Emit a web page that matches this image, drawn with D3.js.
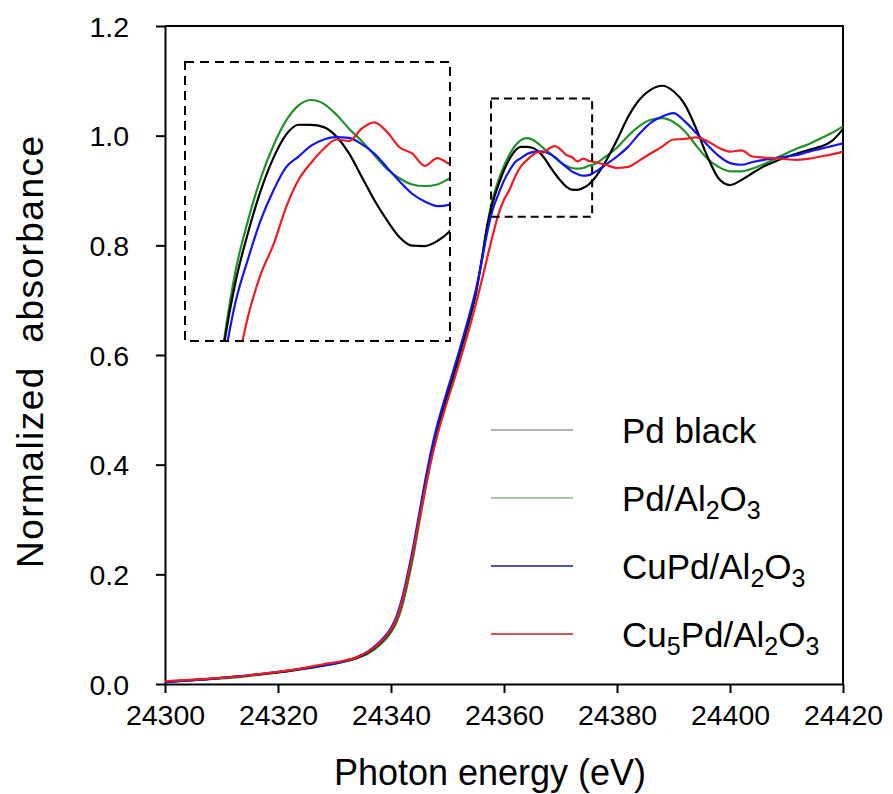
<!DOCTYPE html>
<html>
<head>
<meta charset="utf-8">
<script src="https://cdn.jsdelivr.net/npm/d3@7"></script>
<style>
  html, body { margin: 0; padding: 0; background: #fff; }
  svg { display: block; font-family: "Liberation Sans", Arial, sans-serif; }
</style>
</head>
<body>
<svg id="chart" width="893" height="794"></svg>
<script>
// Pd K-edge XANES spectra, normalized absorbance vs photon energy (eV)
const energy = [24300, 24305, 24310, 24315, 24320, 24325, 24328, 24331, 24334, 24336, 24338,
  24340, 24341, 24342, 24343, 24344, 24345, 24346, 24347, 24348, 24349,
  24350, 24351, 24352, 24353, 24354, 24355, 24356, 24357, 24358, 24359,
  24360, 24361, 24362, 24363, 24364, 24365, 24366, 24367, 24368, 24369,
  24370, 24371, 24372, 24373, 24374, 24375, 24376,
  24378, 24380, 24382, 24384, 24386, 24388, 24390, 24392, 24394, 24396, 24398,
  24400, 24402, 24404, 24406, 24408, 24410, 24412, 24414, 24416, 24418, 24420];

const pdAl2O3 = [0.004, 0.007, 0.010, 0.015, 0.021, 0.028, 0.033, 0.039, 0.047, 0.056, 0.071,
  0.094, 0.113, 0.143, 0.186, 0.236, 0.294, 0.350, 0.403, 0.450, 0.490,
  0.526, 0.560, 0.596, 0.632, 0.669, 0.712, 0.770, 0.835, 0.885, 0.918,
  0.945, 0.966, 0.982, 0.992, 0.9955, 0.993, 0.986, 0.977, 0.969, 0.960,
  0.951, 0.945, 0.941, 0.940, 0.941, 0.945, 0.948,
  0.962, 0.978, 1.000, 1.018, 1.029, 1.032, 1.025, 1.008, 0.982, 0.958, 0.943,
  0.935, 0.935, 0.940, 0.948, 0.958, 0.968, 0.977, 0.985, 0.995, 1.005, 1.017];

const pdBlack = [0.004, 0.007, 0.011, 0.016, 0.021, 0.029, 0.034, 0.040, 0.048, 0.058, 0.074,
  0.098, 0.119, 0.152, 0.196, 0.247, 0.304, 0.360, 0.412, 0.457, 0.494,
  0.528, 0.561, 0.597, 0.633, 0.670, 0.712, 0.770, 0.833, 0.878, 0.910,
  0.937, 0.958, 0.973, 0.9795, 0.9795, 0.978, 0.972, 0.961, 0.946, 0.931,
  0.918, 0.907, 0.9015, 0.9012, 0.9045, 0.911, 0.922,
  0.953, 0.992, 1.035, 1.066, 1.084, 1.091, 1.081, 1.057, 1.013, 0.962, 0.922,
  0.910, 0.919, 0.932, 0.944, 0.953, 0.961, 0.968, 0.974, 0.980, 0.990, 1.012];

const cuPdAl2O3 = [0.004, 0.007, 0.011, 0.016, 0.022, 0.029, 0.034, 0.040, 0.049, 0.060, 0.077,
  0.102, 0.124, 0.158, 0.203, 0.254, 0.311, 0.368, 0.420, 0.465, 0.502,
  0.537, 0.570, 0.605, 0.641, 0.678, 0.718, 0.767, 0.822, 0.865, 0.893,
  0.918, 0.937, 0.952, 0.959, 0.966, 0.970, 0.9715, 0.971, 0.967, 0.961,
  0.952, 0.943, 0.935, 0.930, 0.927, 0.928, 0.933,
  0.947, 0.962, 0.980, 1.004, 1.024, 1.035, 1.041, 1.026, 1.005, 0.983, 0.963,
  0.950, 0.947, 0.952, 0.956, 0.959, 0.962, 0.965, 0.971, 0.976, 0.981, 0.986];

const cu5PdAl2O3 = [0.005, 0.008, 0.011, 0.016, 0.022, 0.030, 0.036, 0.041, 0.049, 0.059, 0.075,
  0.099, 0.119, 0.152, 0.196, 0.246, 0.300, 0.353, 0.403, 0.446, 0.483,
  0.517, 0.549, 0.583, 0.618, 0.654, 0.692, 0.733, 0.776, 0.818, 0.856,
  0.883, 0.902, 0.926, 0.944, 0.955, 0.964, 0.970, 0.969, 0.977, 0.981,
  0.975, 0.965, 0.961, 0.953, 0.958, 0.954, 0.952,
  0.947, 0.941, 0.943, 0.955, 0.968, 0.980, 0.993, 0.994, 0.997, 0.990, 0.978,
  0.971, 0.973, 0.962, 0.960, 0.959, 0.957, 0.956, 0.958, 0.962, 0.966, 0.971];

const xTicks = [24300, 24320, 24340, 24360, 24380, 24400, 24420];
const yTicks = [0.0, 0.2, 0.4, 0.6, 0.8, 1.0, 1.2];

// zoomed window (data units) marked on the main plot, and the range shown enlarged
const zoomBoxE = [24357.7, 24375.6];
const zoomBoxA = [0.852, 1.068];
const insetE = [24354, 24375];
const insetA = [0.84, 1.02];

// drawing order: last one on top
const series = [
  { name: "Pd/Al2O3", values: pdAl2O3, color: "#22902a" },
  { name: "Pd black", values: pdBlack, color: "#000000" },
  { name: "CuPd/Al2O3", values: cuPdAl2O3, color: "#1414f0" },
  { name: "Cu5Pd/Al2O3", values: cu5PdAl2O3, color: "#ec1c22" }
];

// legend entries: [text parts], line colour; parts marked sub are subscripts
const legendItems = [
  { parts: [["Pd black", false]], color: "#9a9a9a" },
  { parts: [["Pd/Al", false], ["2", true], ["O", false], ["3", true]], color: "#8fb58f" },
  { parts: [["CuPd/Al", false], ["2", true], ["O", false], ["3", true]], color: "#1c1c8e" },
  { parts: [["Cu", false], ["5", true], ["Pd/Al", false], ["2", true], ["O", false], ["3", true]], color: "#b52222" }
];

const svg = d3.select("#chart");
const plot = { left: 165, right: 843, top: 26, bottom: 684 };

const x = d3.scaleLinear().domain([24300, 24420]).range([plot.left, plot.right]);
const y = d3.scaleLinear().domain([0, 1.2]).range([plot.bottom, plot.top]);

// frame (top and right edges)
svg.append("path")
  .attr("d", `M${plot.left},${plot.top}H${plot.right}V${plot.bottom}`)
  .attr("fill", "none").attr("stroke", "#000").attr("stroke-width", 2);

// axes
const xAxis = svg.append("g")
  .attr("transform", `translate(0,${plot.bottom})`)
  .call(d3.axisBottom(x).tickValues(xTicks).tickFormat(d3.format("d")).tickSize(9).tickPadding(12).tickSizeOuter(0));
const yAxis = svg.append("g")
  .attr("transform", `translate(${plot.left},0)`)
  .call(d3.axisLeft(y).tickValues(yTicks).tickFormat(d3.format(".1f")).tickSize(9).tickPadding(27).tickSizeOuter(0));

[xAxis, yAxis].forEach(g => {
  g.select(".domain").attr("stroke", "#000").attr("stroke-width", 2);
  g.selectAll(".tick line").attr("stroke", "#000").attr("stroke-width", 2);
  g.selectAll(".tick text").attr("fill", "#000").style("font-size", "28.5px")
    .style("font-family", "'Liberation Sans', Arial, sans-serif");
});
yAxis.selectAll(".tick text").attr("dy", "0.36em");

// axis titles
svg.append("text")
  .attr("x", 490).attr("y", 785)
  .attr("text-anchor", "middle")
  .style("font-size", "36px")
  .text("Photon energy (eV)");

svg.append("text")
  .attr("transform", "translate(43,352) rotate(-90)")
  .attr("text-anchor", "middle")
  .attr("textLength", 432)
  .attr("lengthAdjust", "spacing")
  .style("font-size", "37px")
  .style("white-space", "pre")
  .text("Normalized  absorbance");

// spectra on the main plot
const line = d3.line()
  .x((d, i) => x(energy[i]))
  .y(d => y(d))
  .curve(d3.curveMonotoneX);

svg.append("g").selectAll("path")
  .data(series).join("path")
  .attr("d", s => line(s.values))
  .attr("fill", "none")
  .attr("stroke", s => s.color)
  .attr("stroke-width", 2.2)
  .attr("stroke-linejoin", "round");

// dashed marker of the zoomed window
svg.append("rect")
  .attr("x", x(zoomBoxE[0])).attr("y", y(zoomBoxA[1]))
  .attr("width", x(zoomBoxE[1]) - x(zoomBoxE[0]))
  .attr("height", y(zoomBoxA[0]) - y(zoomBoxA[1]))
  .attr("fill", "none").attr("stroke", "#000").attr("stroke-width", 2)
  .attr("stroke-dasharray", "8,5");

// inset: enlarged view of the first resonance
const inset = { left: 185, right: 450, top: 62, bottom: 341 };
const xi = d3.scaleLinear().domain(insetE).range([inset.left, inset.right]);
const yi = d3.scaleLinear().domain(insetA).range([inset.bottom, inset.top]);

svg.append("defs").append("clipPath").attr("id", "insetClip")
  .append("rect")
  .attr("x", inset.left).attr("y", inset.top)
  .attr("width", inset.right - inset.left).attr("height", inset.bottom - inset.top);

const insetLine = d3.line()
  .x((d, i) => xi(energy[i]))
  .y(d => yi(d))
  .curve(d3.curveMonotoneX);

svg.append("g").attr("clip-path", "url(#insetClip)")
  .selectAll("path")
  .data(series).join("path")
  .attr("d", s => insetLine(s.values))
  .attr("fill", "none")
  .attr("stroke", s => s.color)
  .attr("stroke-width", 2.2)
  .attr("stroke-linejoin", "round");

svg.append("rect")
  .attr("x", inset.left).attr("y", inset.top)
  .attr("width", inset.right - inset.left).attr("height", inset.bottom - inset.top)
  .attr("fill", "none").attr("stroke", "#000").attr("stroke-width", 2)
  .attr("stroke-dasharray", "9,6");

// legend
const legend = svg.append("g");
const legendY0 = 430, legendStep = 68;
legendItems.forEach((item, k) => {
  const cy = legendY0 + k * legendStep;
  legend.append("line")
    .attr("x1", 491).attr("x2", 573).attr("y1", cy).attr("y2", cy)
    .attr("stroke", item.color).attr("stroke-width", 1.6);
  const t = legend.append("text")
    .attr("x", 622).attr("y", cy + 13)
    .style("font-size", "35px");
  item.parts.forEach(([txt, sub]) => {
    if (sub) {
      t.append("tspan").attr("dy", 8).style("font-size", "25px").text(txt);
    } else {
      const ts = t.append("tspan").text(txt);
      // return to the baseline after a subscript
      if (t.selectAll("tspan").size() > 1) ts.attr("dy", -8);
    }
  });
});
</script>
</body>
</html>
